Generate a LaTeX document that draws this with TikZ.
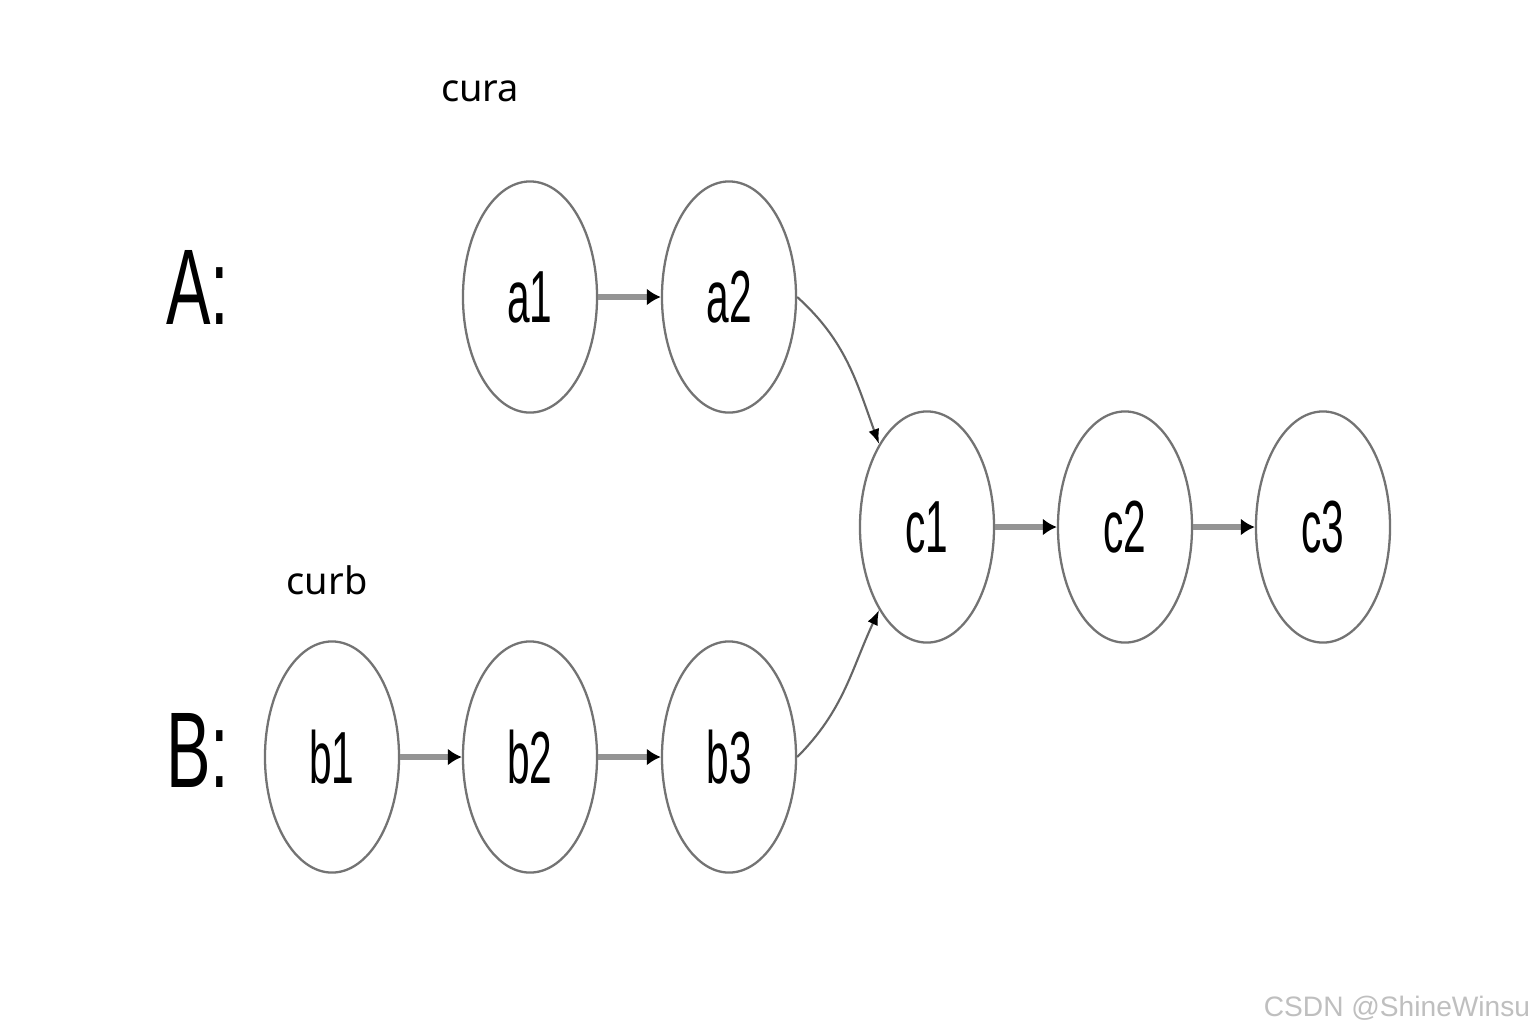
\documentclass[tikz,border=0pt]{standalone}
\usepackage{fontspec}
\setmainfont{Liberation Sans}
\newfontfamily\curfont{Noto Sans}
\usetikzlibrary{arrows.meta,shapes.geometric}
\newcommand\nartxt[1]{\scalebox{0.55}[1]{#1}}
\newcommand\bigtxt[1]{\scalebox{0.62}[1]{#1}}
\begin{document}
\begin{tikzpicture}[x=0.01cm,y=-0.01cm,
  state/.style={ellipse, draw=black!55, line width=0.65pt, minimum width=1.34cm,
    minimum height=2.31cm, inner sep=0pt, font=\fontsize{21}{21}\selectfont},
  straight/.style={draw=black!42, line width=1.5pt,
    -{Latex[length=0.14cm,width=0.17cm,color=black]}},
  curved/.style={draw=black!60, line width=0.6pt,
    -{Latex[length=0.15cm,width=0.11cm,color=black]}},
  biglabel/.style={font=\fontsize{30.6}{30.6}\selectfont},
  curlabel/.style={font=\curfont\fontsize{10.8}{12}\selectfont}]
\useasboundingbox (0,0) rectangle (1533,1035);
\fill[white] (0,0) rectangle (1533,1035);

\node[biglabel] (labA) at (198,287) {\bigtxt{A:}};
\node[biglabel] (labB) at (198,750) {\bigtxt{B:}};
\node[curlabel] (cura) at (480,91) {cura};
\node[curlabel] (curb) at (327,580) {curb};

\node[state] (a1) at (530,297) {\nartxt{a1}};
\node[state] (a2) at (729,297) {\nartxt{a2}};
\node[state] (c1) at (927,527) {\nartxt{c1}};
\node[state] (c2) at (1125,527) {\nartxt{c2}};
\node[state] (c3) at (1323,527) {\nartxt{c3}};
\node[state] (b1) at (332,757) {\nartxt{b1}};
\node[state] (b2) at (530,757) {\nartxt{b2}};
\node[state] (b3) at (729,757) {\nartxt{b3}};

\draw[straight] (a1) -- (a2);
\draw[straight] (b1) -- (b2);
\draw[straight] (b2) -- (b3);
\draw[straight] (c1) -- (c2);
\draw[straight] (c2) -- (c3);
\draw[curved] (a2.east) to[out=-42, in=110] (c1.120);
\draw[curved] (b3.east) to[out=45, in=-115] (c1.240);

\node[font=\fontsize{8}{10}\selectfont, text=black!25] (wm) at (1397,1008) {CSDN @ShineWinsu};
\end{tikzpicture}
\end{document}
